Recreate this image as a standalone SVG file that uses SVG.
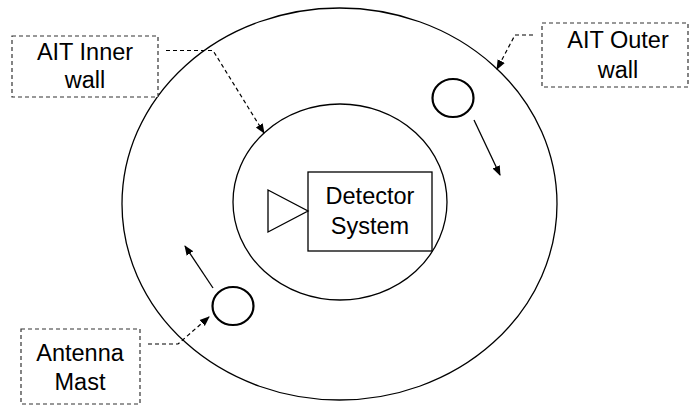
<svg xmlns="http://www.w3.org/2000/svg" width="690" height="406" viewBox="0 0 690 406">
<defs>
<marker id="ah" markerWidth="10" markerHeight="10" refX="9" refY="5" orient="auto" markerUnits="userSpaceOnUse">
<path d="M0,1 L10,5 L0,9 z" fill="#000"/>
</marker>
<style>
.wall{fill:none;stroke:#000;stroke-width:1.3}
.mast{fill:#fff;stroke:#000;stroke-width:2.2}
.lbl{fill:#fff;stroke:#333;stroke-width:1.2;stroke-dasharray:4 3}
.lead{fill:none;stroke:#000;stroke-width:1.2;stroke-dasharray:4 3}
.mv{fill:none;stroke:#000;stroke-width:1.3}
text{font-family:"Liberation Sans",Arial,sans-serif;font-size:23.5px;fill:#000;text-anchor:middle}
</style>
</defs>
<rect width="690" height="406" fill="#fff"/>
<g id="outer-wall"><ellipse class="wall" cx="339.5" cy="204" rx="217.5" ry="196"/></g>
<g id="inner-wall"><ellipse class="wall" cx="340" cy="202" rx="107" ry="98"/></g>
<g id="detector">
<polygon class="wall" points="268,190 308,211 268,232"/>
<rect class="wall" x="308" y="172" width="124" height="79" fill="#fff"/>
<text x="370" y="204">Detector</text>
<text x="370" y="234">System</text>
</g>
<g id="mast-top"><ellipse class="mast" cx="453" cy="98" rx="20.5" ry="19"/></g>
<g id="mast-bottom"><ellipse class="mast" cx="233" cy="306" rx="20.5" ry="19"/></g>
<g id="label-inner">
<rect class="lbl" x="12" y="36" width="146" height="61"/>
<text x="85" y="60">AIT Inner</text>
<text x="85" y="88">wall</text>
</g>
<g id="label-outer">
<rect class="lbl" x="542" y="23" width="146" height="64"/>
<text x="618" y="48">AIT Outer</text>
<text x="618" y="78">wall</text>
</g>
<g id="label-mast">
<rect class="lbl" x="21" y="329" width="119" height="75"/>
<text x="80" y="361">Antenna</text>
<text x="80" y="390">Mast</text>
</g>
<g id="connectors">
<polyline class="lead" points="166,50.5 213,50.5 264,133" marker-end="url(#ah)"/>
<polyline class="lead" points="533,35 515,35 497,69" marker-end="url(#ah)"/>
<polyline class="lead" points="148,344 178,344 209,317" marker-end="url(#ah)"/>
<line class="mv" x1="474" y1="120" x2="500" y2="175" marker-end="url(#ah)"/>
<line class="mv" x1="213" y1="288" x2="185" y2="246" marker-end="url(#ah)"/>
</g>
</svg>
